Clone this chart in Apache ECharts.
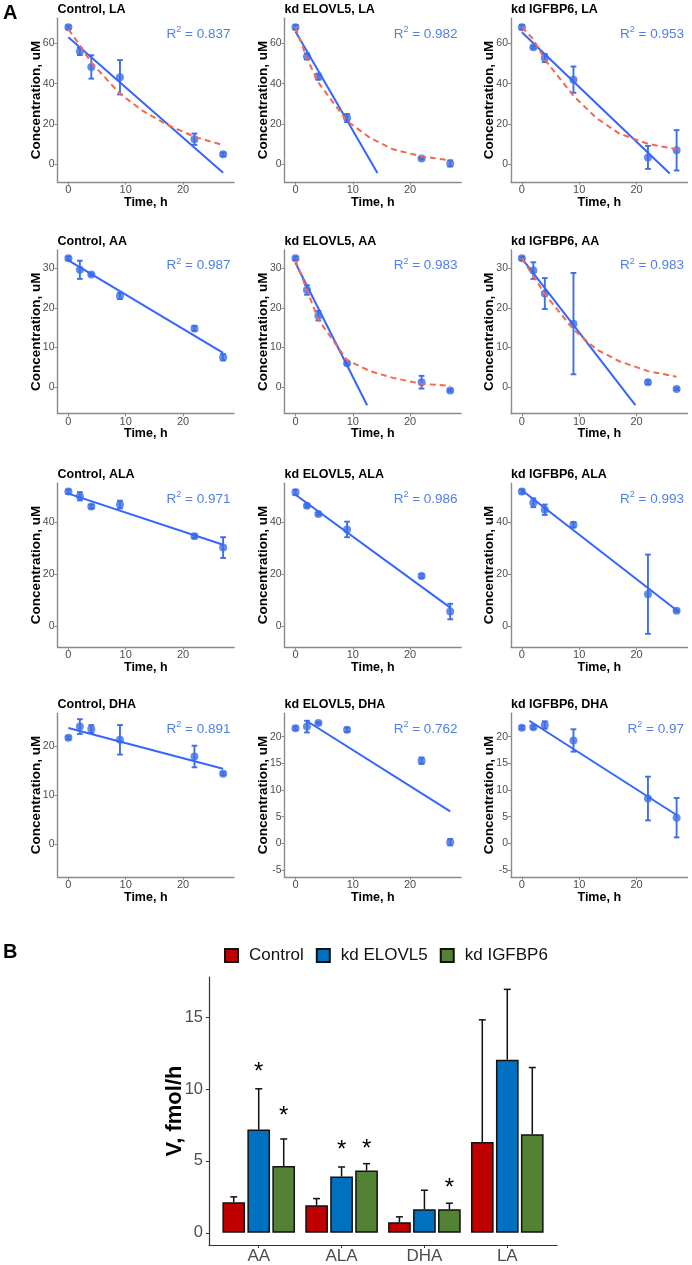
<!DOCTYPE html>
<html><head><meta charset="utf-8">
<script src="https://cdn.jsdelivr.net/npm/echarts@6/dist/echarts.min.js"></script>
<style>html,body{margin:0;padding:0;background:#fff}#c{width:692px;height:1265px}</style>
</head><body><div id="c"></div>
<script>
// ---------------- DATA ----------------
const times = [0, 2, 4, 9, 22, 27];
const expTimes = [0, 2, 4, 9, 13, 17, 22, 27];
const xTicks = [0, 10, 20];

const panelTitles = ['Control, LA', 'kd ELOVL5, LA', 'kd IGFBP6, LA',
  'Control, AA', 'kd ELOVL5, AA', 'kd IGFBP6, AA',
  'Control, ALA', 'kd ELOVL5, ALA', 'kd IGFBP6, ALA',
  'Control, DHA', 'kd ELOVL5, DHA', 'kd IGFBP6, DHA'];
const r2Values = ['0.837', '0.982', '0.953', '0.987', '0.983', '0.983',
  '0.971', '0.986', '0.993', '0.891', '0.762', '0.97'];

// concentrations (uM) and error half-widths
const controlLA = [68, 56, 48.3, 43.2, 12.5, 5];
const controlLAErr = [0.8, 1.8, 5.8, 8.5, 2.8, 0.9];
const elovl5LA = [68, 53.5, 43.5, 23, 3, 0.5];
const elovl5LAErr = [1, 1.5, 1.5, 2, 0.5, 1.5];
const igfbp6LA = [68, 58, 52.7, 42, 3.5, 7];
const igfbp6LAErr = [1, 0.6, 2, 6.5, 5.7, 10];

const controlAA = [32.5, 29.6, 28.4, 23, 14.8, 7.5];
const controlAAErr = [0.4, 2.3, 0.3, 0.8, 0.6, 0.8];
const elovl5AA = [32.5, 24.5, 18, 6, 1.2, -0.9];
const elovl5AAErr = [0.4, 1.2, 1.2, 0.4, 1.6, 0.3];
const igfbp6AA = [32.5, 29.4, 23.6, 16, 1.2, -0.5];
const igfbp6AAErr = [0.4, 2.1, 3.9, 12.8, 0.5, 0.3];

const controlALA = [51.8, 50, 46, 46.8, 34.6, 30.2];
const controlALAErr = [0.8, 1.6, 0.7, 1.5, 0.7, 4];
const elovl5ALA = [51.5, 46.3, 43.2, 37.2, 19.2, 5.5];
const elovl5ALAErr = [1, 0.5, 0.5, 3, 0.7, 3];
const igfbp6ALA = [51.8, 47.5, 44.8, 39, 12.2, 5.8];
const igfbp6ALAErr = [0.8, 1.7, 2, 1, 15.3, 0.4];

const controlDHA = [21.7, 24, 23.5, 21.3, 17.9, 14.4];
const controlDHAErr = [0.3, 1.5, 0.8, 3, 2.2, 0.3];
const elovl5DHA = [21.6, 21.9, 22.6, 21.3, 15.5, 0.2];
const elovl5DHAErr = [0.3, 1.1, 0.2, 0.4, 0.6, 0.6];
const igfbp6DHA = [21.7, 21.8, 22.2, 19.3, 8.4, 4.8];
const igfbp6DHAErr = [0.3, 0.3, 0.7, 2.1, 4.1, 3.7];

// linear fit end points [time, conc]
const controlLAFit = [[0, 63], [27, -4.1]];
const elovl5LAFit = [[0, 65.8], [14.3, -4.2]];
const igfbp6LAFit = [[0, 65.5], [25.8, -4.5]];
const controlAAFit = [[0, 32], [27, 8.6]];
const elovl5AAFit = [[0, 31.3], [12.5, -4.6]];
const igfbp6AAFit = [[0, 32.5], [19.8, -4.6]];
const controlALAFit = [[0, 51], [27, 31.3]];
const elovl5ALAFit = [[0, 50.6], [27, 7]];
const igfbp6ALAFit = [[0, 52.3], [27, 6]];
const controlDHAFit = [[0, 23.7], [27, 15.4]];
const elovl5DHAFit = [[1.9, 23], [27, 6]];
const igfbp6DHAFit = [[1.3, 23], [27, 5.3]];

// exponential fit curves, read at expTimes
const controlLAExp = [67, 59, 50.5, 35, 26.5, 20, 13.7, 9.6];
const elovl5LAExp = [68, 52.5, 40.5, 21.5, 13.2, 7.5, 4, 2];
const igfbp6LAExp = [68, 62, 52, 34, 23, 15.3, 10.2, 7.5];
const elovl5AAExp = [32, 24.5, 17, 6.8, 4, 2.3, 0.8, 0.3];
const igfbp6AAExp = [32.5, 28, 23.5, 14.5, 9.5, 6.5, 4, 2.6];

// y axis ranges and ticks
const yRangeLA = [-8.6, 72.4];
const yRangeAA = [-6.7, 34.6];
const yRangeALA = [-8.1, 55];
const yRangeDHAControl = [-6.6, 26.7];
const yRangeDHAKd = [-6.3, 24.4];
const yTicksLA = [0, 20, 40, 60];
const yTicksAA = [0, 10, 20, 30];
const yTicksALA = [0, 20, 40];
const yTicksDHAControl = [0, 10, 20];
const yTicksDHAKd = [-5, 0, 5, 10, 15, 20];

// panel B
const barCategories = ['AA', 'ALA', 'DHA', 'LA'];
const barGroups = ['Control', 'kd ELOVL5', 'kd IGFBP6'];
const vControl = [2.13, 1.92, 0.74, 6.32];
const vControlErr = [0.37, 0.46, 0.37, 8.5];
const vElovl5 = [7.18, 3.91, 1.64, 12.04];
const vElovl5Err = [2.84, 0.67, 1.32, 4.9];
const vIgfbp6 = [4.65, 4.33, 1.64, 6.85];
const vIgfbp6Err = [1.88, 0.48, 0.42, 4.65];
const starControl = [null, null, null, null];
const starElovl5 = [11.53, 6.09, null, null];
const starIgfbp6 = [8.47, 6.14, 3.43, null];
const barYTicks = [0, 5, 10, 15];
const barYRange = [-0.85, 17.8];

// ---------------- STYLE / LAYOUT ----------------
const FONT = 'Liberation Sans, Arial, Helvetica, sans-serif';
const PT = '#3F6FE6', LINE = '#3366FF', R2C = '#4F7FEA', RED = '#F4694E';
const AXC = '#8a8a8a', TXT = '#4d4d4d';
const colLeft = [57.5, 284.6, 511];
const rowTop = [18.3, 250, 483.3, 713.3];
const PW = 176.5, PH = 163.5;

const panels = [
  {m: controlLA, e: controlLAErr, fit: controlLAFit, exp: controlLAExp, yr: yRangeLA, yt: yTicksLA},
  {m: elovl5LA, e: elovl5LAErr, fit: elovl5LAFit, exp: elovl5LAExp, yr: yRangeLA, yt: yTicksLA},
  {m: igfbp6LA, e: igfbp6LAErr, fit: igfbp6LAFit, exp: igfbp6LAExp, yr: yRangeLA, yt: yTicksLA},
  {m: controlAA, e: controlAAErr, fit: controlAAFit, exp: null, yr: yRangeAA, yt: yTicksAA},
  {m: elovl5AA, e: elovl5AAErr, fit: elovl5AAFit, exp: elovl5AAExp, yr: yRangeAA, yt: yTicksAA},
  {m: igfbp6AA, e: igfbp6AAErr, fit: igfbp6AAFit, exp: igfbp6AAExp, yr: yRangeAA, yt: yTicksAA},
  {m: controlALA, e: controlALAErr, fit: controlALAFit, exp: null, yr: yRangeALA, yt: yTicksALA},
  {m: elovl5ALA, e: elovl5ALAErr, fit: elovl5ALAFit, exp: null, yr: yRangeALA, yt: yTicksALA},
  {m: igfbp6ALA, e: igfbp6ALAErr, fit: igfbp6ALAFit, exp: null, yr: yRangeALA, yt: yTicksALA},
  {m: controlDHA, e: controlDHAErr, fit: controlDHAFit, exp: null, yr: yRangeDHAControl, yt: yTicksDHAControl},
  {m: elovl5DHA, e: elovl5DHAErr, fit: elovl5DHAFit, exp: null, yr: yRangeDHAKd, yt: yTicksDHAKd},
  {m: igfbp6DHA, e: igfbp6DHAErr, fit: igfbp6DHAFit, exp: null, yr: yRangeDHAKd, yt: yTicksDHAKd}
];

function renderErr(params, api) {
  const t = api.value(0), m = api.value(1), e = api.value(2);
  const top = api.coord([t, m + e]), bot = api.coord([t, m - e]);
  const l = api.coord([t - 0.5, m]), r = api.coord([t + 0.5, m]);
  const style = {stroke: PT, lineWidth: 1.9};
  return {type: 'group', children: [
    {type: 'line', shape: {x1: top[0], y1: top[1], x2: bot[0], y2: bot[1]}, style: style},
    {type: 'line', shape: {x1: l[0], y1: top[1], x2: r[0], y2: top[1]}, style: style},
    {type: 'line', shape: {x1: l[0], y1: bot[1], x2: r[0], y2: bot[1]}, style: style}
  ]};
}

const grid = [], xAxis = [], yAxis = [], series = [], title = [];

panels.forEach(function (p, i) {
  const row = Math.floor(i / 3), col = i % 3;
  const left = colLeft[col], top = rowTop[row];
  grid.push({left: left, top: top, width: PW, height: PH});
  xAxis.push({
    type: 'value', gridIndex: i, min: -1.9, max: 28.9,
    name: 'Time, h', nameLocation: 'middle', nameGap: 14, nameMoveOverlap: false,
    nameTextStyle: {fontFamily: FONT, fontWeight: 'bold', fontSize: 12.5, color: '#000'},
    axisLine: {show: true, onZero: false, lineStyle: {color: AXC, width: 1.4}},
    axisTick: {show: true, length: 3, lineStyle: {color: AXC}, customValues: xTicks},
    axisLabel: {fontFamily: FONT, fontSize: 11, color: TXT, margin: 3, customValues: xTicks},
    splitLine: {show: false}
  });
  yAxis.push({
    type: 'value', gridIndex: i, min: p.yr[0], max: p.yr[1],
    name: 'Concentration, uM', nameLocation: 'middle', nameGap: 14.5, nameMoveOverlap: false,
    nameTextStyle: {fontFamily: FONT, fontWeight: 'bold', fontSize: 13.5, color: '#000'},
    axisLine: {show: true, onZero: false, lineStyle: {color: AXC, width: 1.4}},
    axisTick: {show: true, length: 3, lineStyle: {color: AXC}, customValues: p.yt},
    axisLabel: {fontFamily: FONT, fontSize: 10.5, color: TXT, margin: 3, customValues: p.yt},
    splitLine: {show: false}
  });
  series.push({
    type: 'custom', xAxisIndex: i, yAxisIndex: i, renderItem: renderErr, z: 3,
    encode: {x: 0, y: 1},
    data: times.map(function (t, k) { return [t, p.m[k], p.e[k]]; })
  });
  series.push({
    type: 'scatter', xAxisIndex: i, yAxisIndex: i, symbolSize: 8, z: 3,
    itemStyle: {color: PT},
    data: times.map(function (t, k) { return [t, p.m[k]]; })
  });
  series.push({
    type: 'line', xAxisIndex: i, yAxisIndex: i, symbol: 'none', z: 4, clip: true,
    lineStyle: {color: LINE, width: 2},
    data: p.fit
  });
  if (p.exp) {
    series.push({
      type: 'line', xAxisIndex: i, yAxisIndex: i, symbol: 'none', z: 5,
      smooth: false,
      lineStyle: {color: RED, width: 2, type: [6, 4]},
      data: expTimes.map(function (t, k) { return [t, p.exp[k]]; })
    });
  }
  title.push({
    text: panelTitles[i], left: left, top: top - 15, padding: 0,
    textStyle: {fontFamily: FONT, fontWeight: 'bold', fontSize: 12.5, color: '#000'}
  });
  title.push({
    text: '{r|R}{s|2}{r| = ' + r2Values[i] + '}',
    right: 692 - (left + PW) + 3.5, top: top + 7, padding: 0,
    textStyle: {fontWeight: 'normal', rich: {
      r: {fontFamily: FONT, fontSize: 13.5, fontWeight: 'normal', color: R2C, lineHeight: 17},
      s: {fontFamily: FONT, fontSize: 9, fontWeight: 'normal', color: R2C, lineHeight: 11, verticalAlign: 'top'}
    }}
  });
});

// Panel labels
title.push({text: 'A', left: 3, top: 3, padding: 0,
  textStyle: {fontFamily: FONT, fontWeight: 'bold', fontSize: 20, color: '#000'}});
title.push({text: 'B', left: 3, top: 942, padding: 0,
  textStyle: {fontFamily: FONT, fontWeight: 'bold', fontSize: 20, color: '#000'}});

// ---------- Panel B ----------
const BG = 12;
grid.push({left: 209, top: 977, width: 348, height: 268.7});
xAxis.push({
  type: 'value', gridIndex: BG, min: 0.4, max: 4.6,
  axisLine: {show: true, onZero: false, lineStyle: {color: '#333', width: 1.2}},
  axisTick: {show: true, length: 3, lineStyle: {color: '#333'}, customValues: [1, 2, 3, 4]},
  axisLabel: {fontFamily: FONT, fontSize: 17, color: TXT, margin: 3, customValues: [1, 2, 3, 4],
    formatter: function (v) { return barCategories[Math.round(v) - 1] || ''; }},
  splitLine: {show: false}
});
yAxis.push({
  type: 'value', gridIndex: BG, min: barYRange[0], max: barYRange[1],
  name: 'V, fmol/h', nameLocation: 'middle', nameGap: 23, nameMoveOverlap: false,
  nameTextStyle: {fontFamily: FONT, fontWeight: 'bold', fontSize: 22, color: '#000'},
  axisLine: {show: true, onZero: false, lineStyle: {color: '#333', width: 1.2}},
  axisTick: {show: true, length: 3, lineStyle: {color: '#333'}, customValues: barYTicks},
  axisLabel: {fontFamily: FONT, fontSize: 16.5, color: TXT, margin: 6, customValues: barYTicks},
  splitLine: {show: false}
});
const barColors = ['#C00000', '#0070C0', '#548235'];
const barVals = [vControl, vElovl5, vIgfbp6];
const barErrs = [vControlErr, vElovl5Err, vIgfbp6Err];
const barStars = [starControl, starElovl5, starIgfbp6];
const BW = 22.7, BSTEP = 25;
barGroups.forEach(function (g, s) {
  series.push({
    type: 'bar', name: g, xAxisIndex: BG, yAxisIndex: BG,
    barWidth: BW, barGap: '10%', z: 2,
    itemStyle: {color: barColors[s], borderColor: '#111', borderWidth: 1.5},
    data: barCategories.map(function (c, k) { return [k + 1, barVals[s][k]]; })
  });
});
barGroups.forEach(function (g, s) {
  const dx = (s - 1) * BSTEP;
  series.push({
    type: 'custom', xAxisIndex: BG, yAxisIndex: BG, z: 4,
    encode: {x: 0, y: 1},
    renderItem: function (params, api) {
      const x = api.value(0), v = api.value(1), e = api.value(2), st = api.value(3);
      const b = api.coord([x, v]), t = api.coord([x, v + e]);
      const px = b[0] + dx;
      const style = {stroke: '#111', lineWidth: 1.5};
      const ch = [
        {type: 'line', shape: {x1: px, y1: b[1], x2: px, y2: t[1]}, style: style},
        {type: 'line', shape: {x1: px - 3.5, y1: t[1], x2: px + 3.5, y2: t[1]}, style: style}
      ];
      if (st != null && !isNaN(st)) {
        const sp = api.coord([x, st]);
        ch.push({type: 'text', style: {text: '*', x: px, y: sp[1] + 5, align: 'center',
          verticalAlign: 'middle', fontFamily: FONT, fontSize: 24, fill: '#000'}});
      }
      return {type: 'group', children: ch};
    },
    data: barCategories.map(function (c, k) {
      return [k + 1, barVals[s][k], barErrs[s][k], barStars[s][k]];
    })
  });
});

const option = {
  animation: false,
  backgroundColor: '#fff',
  title: title,
  legend: {
    data: barGroups, left: 224, top: 947, icon: 'rect', padding: 0,
    itemWidth: 13, itemHeight: 13, itemGap: 12,
    textStyle: {fontFamily: FONT, fontSize: 17, color: '#111', padding: [0, 0, 0, 6]}
  },
  grid: grid, xAxis: xAxis, yAxis: yAxis, series: series
};
const chart = echarts.init(document.getElementById('c'), null, {renderer: 'canvas'});
chart.setOption(option);
</script></body></html>
